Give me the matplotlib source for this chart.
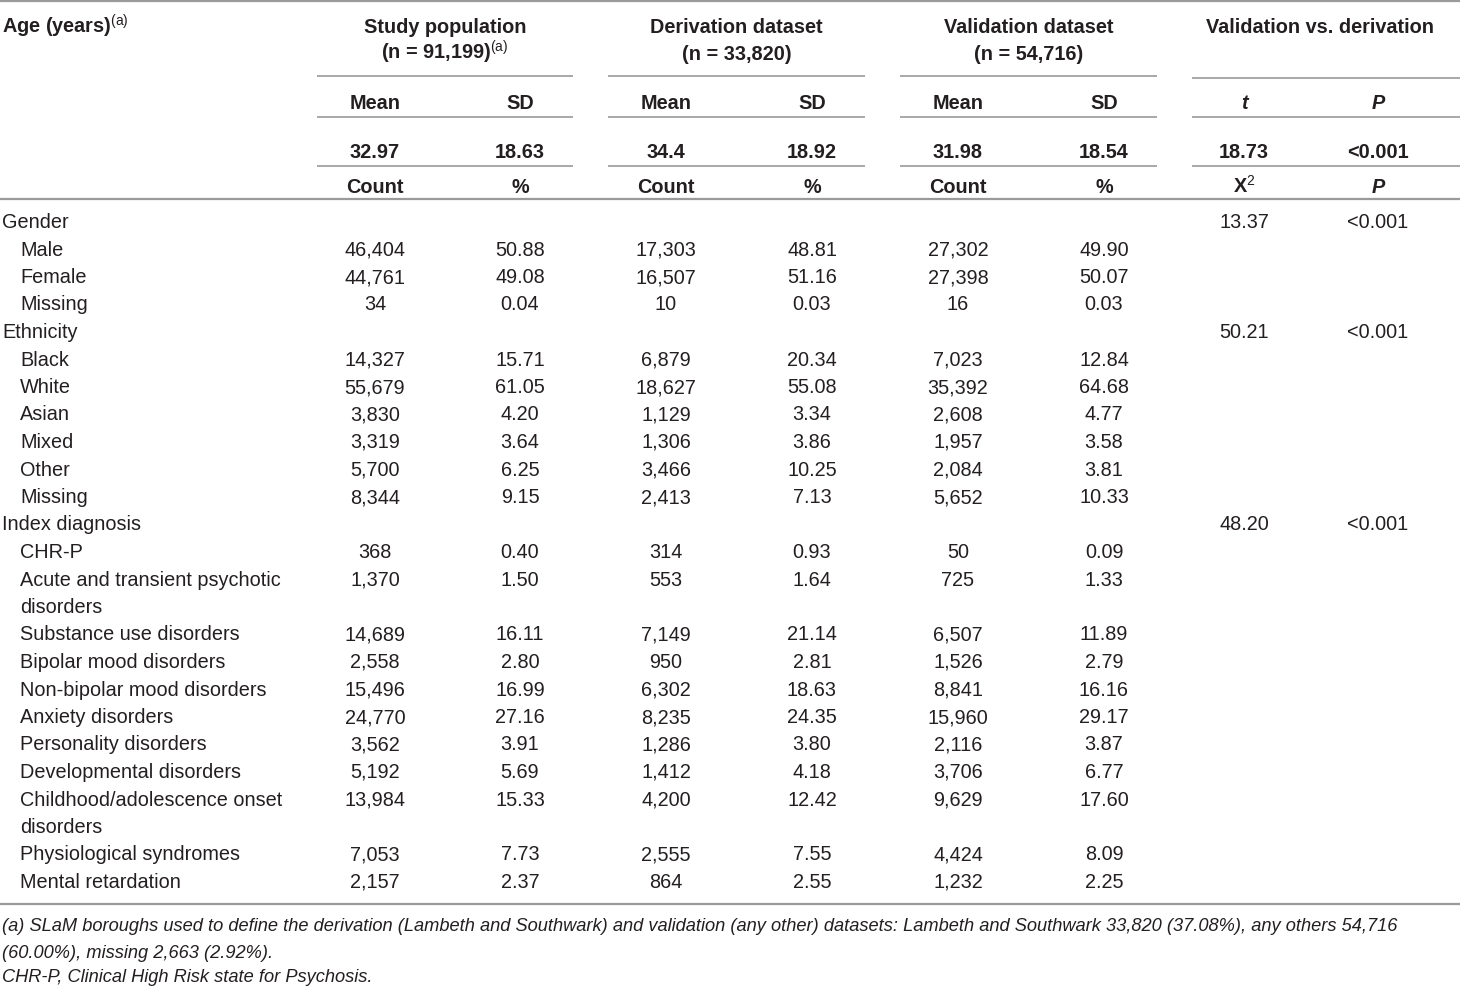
import matplotlib
matplotlib.use("Agg")
import matplotlib.pyplot as plt

plt.rcParams["font.family"] = ["Liberation Sans", "DejaVu Sans"]
plt.rcParams["mathtext.fontset"] = "custom"
plt.rcParams["mathtext.rm"] = "Liberation Sans"
plt.rcParams["mathtext.bf"] = "Liberation Sans:bold"

# ---- data -------------------------------------------------------------
groups = ["Study population", "Derivation dataset", "Validation dataset"]
group_n = ["(n = 91,199)$^{\\rm (a)}$", "(n = 33,820)", "(n = 54,716)"]
age_mean = ["32.97", "34.4", "31.98"]
age_sd = ["18.63", "18.92", "18.54"]
age_t = "18.73"
age_p = "<0.001"

row_labels = ["Gender", "Male", "Female", "Missing",
              "Ethnicity", "Black", "White", "Asian", "Mixed", "Other", "Missing",
              "Index diagnosis", "CHR-P", "Acute and transient psychotic\ndisorders",
              "Substance use disorders", "Bipolar mood disorders",
              "Non-bipolar mood disorders", "Anxiety disorders",
              "Personality disorders", "Developmental disorders",
              "Childhood/adolescence onset\ndisorders", "Physiological syndromes",
              "Mental retardation"]
row_indent = [0, 1, 1, 1, 0, 1, 1, 1, 1, 1, 1, 0, 1, 1, 1, 1, 1, 1, 1, 1, 1, 1, 1]
study_count = ["", "46,404", "44,761", "34", "", "14,327", "55,679", "3,830", "3,319",
               "5,700", "8,344", "", "368", "1,370", "14,689", "2,558", "15,496",
               "24,770", "3,562", "5,192", "13,984", "7,053", "2,157"]
study_pct = ["", "50.88", "49.08", "0.04", "", "15.71", "61.05", "4.20", "3.64",
             "6.25", "9.15", "", "0.40", "1.50", "16.11", "2.80", "16.99",
             "27.16", "3.91", "5.69", "15.33", "7.73", "2.37"]
deriv_count = ["", "17,303", "16,507", "10", "", "6,879", "18,627", "1,129", "1,306",
               "3,466", "2,413", "", "314", "553", "7,149", "950", "6,302",
               "8,235", "1,286", "1,412", "4,200", "2,555", "864"]
deriv_pct = ["", "48.81", "51.16", "0.03", "", "20.34", "55.08", "3.34", "3.86",
             "10.25", "7.13", "", "0.93", "1.64", "21.14", "2.81", "18.63",
             "24.35", "3.80", "4.18", "12.42", "7.55", "2.55"]
valid_count = ["", "27,302", "27,398", "16", "", "7,023", "35,392", "2,608", "1,957",
               "2,084", "5,652", "", "50", "725", "6,507", "1,526", "8,841",
               "15,960", "2,116", "3,706", "9,629", "4,424", "1,232"]
valid_pct = ["", "49.90", "50.07", "0.03", "", "12.84", "64.68", "4.77", "3.58",
             "3.81", "10.33", "", "0.09", "1.33", "11.89", "2.79", "16.16",
             "29.17", "3.87", "6.77", "17.60", "8.09", "2.25"]
chi2 = ["13.37", "", "", "", "50.21", "", "", "", "", "", "", "48.20"] + [""] * 11
chi2_p = ["<0.001", "", "", "", "<0.001", "", "", "", "", "", "", "<0.001"] + [""] * 11

footnotes = [
    "(a) SLaM boroughs used to define the derivation (Lambeth and Southwark) and validation (any other) datasets: "
    "Lambeth and Southwark 33,820 (37.08%), any others 54,716",
    "(60.00%), missing 2,663 (2.92%).",
    "CHR-P, Clinical High Risk state for Psychosis.",
]

# ---- layout -----------------------------------------------------------
W, H = 1460, 987
TXT = "#231f20"
LINE = "#9a9a9a"
FS = 14.3
BASE = 7  # baseline sits this far below the visual centre of a line

fig = plt.figure(figsize=(W / 100, H / 100), dpi=100)
ax = fig.add_axes([0, 0, 1, 1])
ax.set_xlim(0, W)
ax.set_ylim(H, 0)
ax.axis("off")

col_x = [375, 520, 666, 812, 958, 1104, 1244, 1378]
grp_span = [(317, 573), (608, 865), (900, 1157), (1192, 1460)]


def t(x, y, s, ha="center", bold=False, italic=False, size=FS, base=BASE):
    ax.text(x, y + base, s, ha=ha, va="baseline", color=TXT, fontsize=size,
            fontweight="bold" if bold else "normal",
            fontstyle="italic" if italic else "normal")


# rules
ax.hlines(2, 0, W, color=LINE, lw=1.6)
for i, (a, b) in enumerate(grp_span):
    yl = 79 if i == 3 else 77
    ax.hlines(yl, a, b, color=LINE, lw=1.2)
    ax.hlines(118, a, b, color=LINE, lw=1.2)
    ax.hlines(167, a, b, color=LINE, lw=1.2)
ax.hlines(200, 0, W, color=LINE, lw=1.6)
ax.hlines(905, 0, W, color=LINE, lw=1.6)

# header
t(2, 26, "Age (years)$^{\\rm (a)}$", ha="left", bold=True)
for i in range(3):
    cx = (grp_span[i][0] + grp_span[i][1]) / 2
    t(cx, 26, groups[i], bold=True)
    t(cx, 53, group_n[i], bold=True)
    t(col_x[2 * i], 102, "Mean", bold=True)
    t(col_x[2 * i + 1], 102, "SD", bold=True)
    t(col_x[2 * i], 151, age_mean[i], bold=True)
    t(col_x[2 * i + 1], 151, age_sd[i], bold=True)
    t(col_x[2 * i], 186, "Count", bold=True)
    t(col_x[2 * i + 1], 186, "%", bold=True)
t((grp_span[3][0] + grp_span[3][1]) / 2 - 6, 26, "Validation vs. derivation", bold=True)
t(col_x[6], 102, "t", bold=True, italic=True)
t(col_x[7], 102, "P", bold=True, italic=True)
t(col_x[6], 151, age_t, bold=True)
t(col_x[7], 151, age_p, bold=True)
t(col_x[6], 186, "X$^{\\rm 2}$", bold=True)
t(col_x[7], 186, "P", bold=True, italic=True)

# body
y = 221
step = 27.5
for i, lab in enumerate(row_labels):
    vals = [study_count[i], study_pct[i], deriv_count[i], deriv_pct[i],
            valid_count[i], valid_pct[i], chi2[i], chi2_p[i]]
    for x, v in zip(col_x, vals):
        if v:
            t(x, y, v)
    for k, part in enumerate(lab.split("\n")):
        t(2 + 18 * row_indent[i], y + k * step, part, ha="left")
    y += step * (lab.count("\n") + 1)

# footnotes
for fy, s in zip([925, 952, 976], footnotes):
    t(2, fy, s, ha="left", italic=True, size=13.15, base=6)

fig.savefig("out.png", dpi=100)
